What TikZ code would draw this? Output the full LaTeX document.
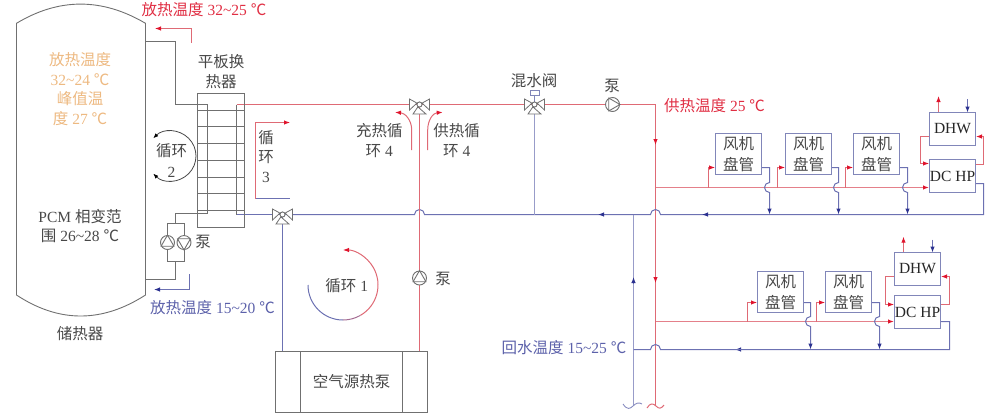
\documentclass[tikz,border=0pt]{standalone}
\usepackage{fontspec}
\setmainfont{Liberation Serif}
\newfontfamily\cjk{Noto Sans CJK SC}
\newcommand{\zh}[1]{{\cjk #1}}
\newcommand{\wave}{\textasciitilde}
\usepackage{tikz}
\usetikzlibrary{arrows.meta,backgrounds}
\definecolor{pipegrey}{HTML}{707070}
\definecolor{pipered}{HTML}{DF6A75}
\definecolor{pipeblue}{HTML}{6C71B2}
\definecolor{tipred}{HTML}{E0142D}
\definecolor{tipblue}{HTML}{2B3190}
\definecolor{boxblue}{HTML}{8186B9}
\definecolor{warmtext}{HTML}{EDB981}
\definecolor{darktext}{HTML}{484848}
\tikzset{
  txt/.style={inner sep=0pt, text=darktext, align=center, font=\fontsize{15.5}{19.5}\selectfont},
  txtred/.style={txt, text=tipred!70!pipered},
  txtblue/.style={txt, text=pipeblue!75!tipblue},
  txtwarm/.style={txt, text=warmtext},
  redline/.style={draw=pipered, line width=1pt},
  blueline/.style={draw=pipeblue, line width=1pt},
  greyline/.style={draw=pipegrey, line width=.9pt},
  redarrow/.style={redline, -{Latex[length=6pt,width=4.5pt,color=tipred]}},
  bluearrow/.style={blueline, -{Latex[length=6pt,width=4.5pt,color=tipblue]}},
  redwide/.style={redarrow, draw=pipered!85!white, line width=1.5pt},
  bluewide/.style={draw=pipeblue!70!white, line width=1.6pt},
  coilbox/.style={draw=boxblue, line width=1pt, fill=white, inner sep=0pt, minimum width=46pt, minimum height=41pt, text=darktext, align=center, font=\fontsize{15.5}{21}\selectfont},
  unitbox/.style={draw=boxblue, line width=1pt, fill=white, inner sep=0pt, minimum width=46pt, minimum height=33pt, text=black!85, font=\fontsize{15.5}{18}\selectfont},
  pumpnode/.style={circle, draw=pipegrey, line width=.9pt, fill=white, inner sep=0pt, minimum size=14pt},
  hubnode/.style={circle, draw=pipegrey, line width=.8pt, fill=white, inner sep=0pt, minimum size=5pt},
  valvepart/.style={draw=pipegrey, line width=.8pt, fill=white}
}
% three way valve: name, position
\newcommand{\threeway}[2]{
  \node [hubnode] (#1) at (#2) {};
  \path [valvepart] (#1) -- ++(-10,-5.5) -- ++(0,11) -- cycle;
  \path [valvepart] (#1) -- ++(10,-5.5) -- ++(0,11) -- cycle;
  \path [valvepart] (#1) -- ++(-6.5,9.5) -- ++(13,0) -- cycle;
  \node [hubnode] at (#2) {};
}
\begin{document}
\begin{tikzpicture}[x=1pt, y=-1pt]
\useasboundingbox (0,0) rectangle (1000,416);
% storage tank
\draw [greyline] (16.5,23.3) .. controls (59,-2.3) and (102,-2.3) .. (145.5,23.3) -- (145.5,295)
  .. controls (102,323) and (59,323) .. (16.5,295) -- cycle;
\node [txtwarm] (tankwarm) at (80,89) {\zh{放热温度}\\32\wave24 \zh{℃}\\\zh{峰值温}\\\zh{度} 27 \zh{℃}};
\node [txt] (tankpcm) at (80,226) {PCM \zh{相变范}\\\zh{围} 26\wave28 \zh{℃}};
\node [txt] (tankname) at (80,334) {\zh{储热器}};
% plate exchanger
\node [draw=pipegrey, line width=.9pt, minimum width=47pt, minimum height=134pt, inner sep=0pt] (hxbox) at (221,160.5) {};
\draw [greyline] (197.5,110.5) -- (244.5,110.5);
\draw [greyline] (197.5,126.5) -- (244.5,126.5);
\draw [greyline] (197.5,143.5) -- (244.5,143.5);
\draw [greyline] (197.5,160.5) -- (244.5,160.5);
\draw [greyline] (197.5,177.5) -- (244.5,177.5);
\draw [greyline] (197.5,193.5) -- (244.5,193.5);
\draw [greyline] (197.5,210.5) -- (244.5,210.5);
\node [txt] (hxname) at (221,71.5) {\zh{平板换}\\\zh{热器}};
% pumps
\node [pumpnode] (pumpa) at (167.5,242.5) {};
\node [pumpnode] (pumpb) at (184,242.5) {};
\node [pumpnode] (pumpc) at (419.5,278) {};
\node [pumpnode] (pumpd) at (612.5,104.5) {};
\draw [greyline] (pumpa.90) -- (pumpa.210) -- (pumpa.330) -- cycle;
\draw [greyline] (pumpb.270) -- (pumpb.30) -- (pumpb.150) -- cycle;
\draw [greyline] (pumpc.90) -- (pumpc.210) -- (pumpc.330) -- cycle;
\draw [greyline] (pumpd.0) -- (pumpd.120) -- (pumpd.240) -- cycle;
\node [txt] (pumpaname) at (203,242) {\zh{泵}};
\node [txt] (pumpcname) at (443,279) {\zh{泵}};
\node [txt] (pumpdname) at (612,86) {\zh{泵}};
% valves
\threeway{valvea}{282.5,214.5}
\threeway{valveb}{419.5,104.5}
\threeway{valvec}{534.5,104.5}
\node [draw=boxblue, line width=.9pt, fill=white, inner sep=0pt, minimum width=9pt, minimum height=4.6pt] (valvehead) at (534.5,93) {};
\node [txt] (valvename) at (534,81) {\zh{混水阀}};
% air source heat pump
\node [draw=pipegrey, line width=.9pt, inner sep=0pt, minimum width=152pt, minimum height=61pt] (ashp) at (351.5,382) {};
\node [draw=pipegrey, line width=.9pt, inner sep=0pt, minimum width=102pt, minimum height=61pt, text=darktext, font=\fontsize{15.5}{18}\selectfont] (ashpname) at (351.5,382) {\zh{空气源热泵}};
% fan coils and units, upper branch
\node [coilbox] (coila) at (738.5,154) {\zh{风机}\\\zh{盘管}};
\node [coilbox] (coilb) at (808.5,154) {\zh{风机}\\\zh{盘管}};
\node [coilbox] (coilc) at (876.5,154) {\zh{风机}\\\zh{盘管}};
\node [unitbox] (dhwa) at (952.5,129) {DHW};
\node [unitbox] (hpa) at (952.5,176) {DC HP};
% fan coils and units, lower branch
\node [coilbox] (coild) at (780.5,292) {\zh{风机}\\\zh{盘管}};
\node [coilbox] (coile) at (848.5,292) {\zh{风机}\\\zh{盘管}};
\node [unitbox] (dhwb) at (917.5,269) {DHW};
\node [unitbox] (hpb) at (917.5,312) {DC HP};
% pipe points
\coordinate (tankout) at (145.5,41.5);
\coordinate (hxgreytop) at (207.5,104.5);
\coordinate (hxgreylow) at (207.5,213.5);
\coordinate (hxredtop) at (236.5,104.5);
\coordinate (hxbluelow) at (236.5,214.5);
\coordinate (tankin) at (145.5,279.5);
\coordinate (pumptop) at (175.5,223.5);
\coordinate (pumplow) at (175.5,261.5);
\coordinate (redcorner) at (655.5,104.5);
\coordinate (redfoot) at (655.5,405);
\coordinate (bluefoot) at (633.5,405);
\coordinate (bluehead) at (633.5,214.5);
\coordinate (bluerise) at (633.5,277);
\coordinate (blueturn) at (983.5,214.5);
\coordinate (mainhopa) at (414.5,214.5);
\coordinate (mainhopb) at (650.5,214.5);
\coordinate (mainmida) at (598,214.5);
\coordinate (mainmidb) at (702,214.5);
\coordinate (lowstart) at (633.5,349.5);
\coordinate (lowhop) at (650.5,349.5);
\coordinate (lowmid) at (735,349.5);
\coordinate (lowturn) at (949.5,349.5);
\coordinate (reddowna) at (655.5,145);
\coordinate (reddownb) at (655.5,283);
\coordinate (brancha) at (655.5,187.5);
\coordinate (branchb) at (655.5,321.5);
\begin{scope}[on background layer]
% source side
\draw [greyline] (tankout) -| (175.5,104.5) -- (hxgreytop) -- (hxgreylow) -| (pumptop);
\draw [greyline] (pumpa.north) |- (pumptop) -| (pumpb.north);
\draw [greyline] (pumpa.south) |- (pumplow) -| (pumpb.south);
\draw [greyline] (pumplow) |- (tankin);
\draw [greyline] (hxredtop) -- (hxbluelow);
\draw [redline] (hxredtop) -- (valveb) -- (valvec) -- (pumpd) -- (redcorner) -- (redfoot);
\draw [blueline] (hxbluelow) -- (valvea);
\draw [blueline] (valvea) -- (mainhopa) arc [start angle=180, end angle=360, radius=5]
  -- (mainhopb) arc [start angle=180, end angle=360, radius=5] -- (blueturn) |- (hpa.east |- 0,183.5);
\draw [blueline] (valvea) -- (valvea |- ashp.north);
\draw [redline] (valveb) -- (pumpc) -- (pumpc |- ashp.north);
\draw [bluewide] (valvec) -- (valvec |- mainhopa);
\draw [draw=boxblue, line width=.9pt] (valvehead) -- (valvec);
\draw [bluewide] (bluehead) -- (bluefoot);
% mid line arrows
\path [redarrow] ([yshift=6pt]reddowna) -- (reddowna);
\path [redarrow] ([yshift=6pt]reddownb) -- (reddownb);
\path [bluearrow] ([yshift=-6pt]bluerise) -- (bluerise);
\path [bluearrow] ([xshift=6pt]mainmidb) -- (mainmidb);
\path [bluearrow] ([xshift=6pt]mainmida) -- (mainmida);
\path [bluearrow] ([xshift=6pt]lowmid) -- (lowmid);
% upper branch
\path [redwide] (brancha) -- (hpa.west |- brancha);
\path [redarrow] (708.5,187.5) |- (coila.west |- 0,167.5);
\path [redarrow] (777.5,187.5) |- (coilb.west |- 0,167.5);
\path [redarrow] (845.5,187.5) |- (coilc.west |- 0,167.5);
\path [bluearrow] (coila.east |- 0,167.5) -| (769.5,182.5) arc [start angle=270, end angle=90, radius=5] -- (769.5,214.5);
\path [bluearrow] (coilb.east |- 0,167.5) -| (838.5,182.5) arc [start angle=270, end angle=90, radius=5] -- (838.5,214.5);
\path [bluearrow] (coilc.east |- 0,167.5) -| (907.5,182.5) arc [start angle=270, end angle=90, radius=5] -- (907.5,214.5);
\path [redarrow] (dhwa.west |- 0,136.5) -| (920.5,163.5) -- (hpa.west |- 0,163.5);
\path [redarrow] (hpa.east |- 0,164.5) -| (983.5,136.5) -- (dhwa.east |- 0,136.5);
\path [redarrow] (dhwa.north -| 938.5,0) -- (938.5,96);
\path [bluearrow] (967.5,99) -- (967.5,112.5);
% lower branch
\draw [blueline] (lowstart) -- (lowhop) arc [start angle=180, end angle=360, radius=5] -- (lowturn) |- (hpb.east |- 0,321.5);
\path [redwide] (branchb) -- (hpb.west |- branchb);
\path [redarrow] (747.5,321.5) |- (coild.west |- 0,302.5);
\path [redarrow] (816.5,321.5) |- (coile.west |- 0,302.5);
\path [bluearrow] (coild.east |- 0,302.5) -| (810.5,316.5) arc [start angle=270, end angle=90, radius=5] -- (810.5,349.5);
\path [bluearrow] (coile.east |- 0,302.5) -| (879.5,316.5) arc [start angle=270, end angle=90, radius=5] -- (879.5,349.5);
\path [redarrow] (dhwb.west |- 0,276.5) -| (885.5,304.5) -- (hpb.west |- 0,304.5);
\path [redarrow] (hpb.east |- 0,304.5) -| (949.5,276.5) -- (dhwb.east |- 0,276.5);
\path [redarrow] (dhwb.north -| 903.5,0) -- (903.5,236.7);
\path [bluearrow] (932.5,239.7) -- (932.5,252.5);
\end{scope}
% pipe breaks
\draw [draw=pipeblue!80!white, line width=.9pt] (623,404) .. controls (627,410) and (630,409) .. (633,406) .. controls (636,403) and (639,402) .. (642,404);
\draw [redline] (647,408) .. controls (650,403) and (653,403) .. (656,406) .. controls (659,409) and (661,409) .. (664,405);
% loop marks
\path [redarrow] (191.5,42.7) |- (155,28.5);
\path [bluearrow] (189.5,274.3) |- (154,289.5);
\path [redarrow] (255.5,198.5) |- (290,122.5);
\draw [blueline] (255.5,198.5) -- (290,198.5);
\draw [line width=.8pt, draw=darktext, {Latex[length=5pt,width=4pt,color=black]}-{Latex[length=5pt,width=4pt,color=black]}] (153.3,138.3) arc [start angle=-135, end angle=135, radius=25];
\draw [blueline] (308,285) arc [start angle=180, end angle=90, radius=35];
\draw [draw=pipeblue!50!pipered, line width=1pt] (343,320) arc [start angle=90, end angle=60, radius=35];
\draw [redarrow] (360.5,315.3) arc [start angle=60, end angle=-90, radius=35];
\draw [redarrow] (411.7,150) -- (411.7,130) .. controls (411.7,120) and (405,113) .. (395,112.3);
\draw [redarrow] (427.7,150) -- (427.7,130) .. controls (427.7,120) and (433,113) .. (442.7,112.3);
% labels
\node [txtred] (heatout) at (204,10) {\zh{放热温度} 32\wave25 \zh{℃}};
\node [txtblue] (heatin) at (212.5,308) {\zh{放热温度} 15\wave20 \zh{℃}};
\node [txtred] (supply) at (714.5,106) {\zh{供热温度} 25 \zh{℃}};
\node [txtblue] (backflow) at (564,348) {\zh{回水温度} 15\wave25 \zh{℃}};
\node [txt] (loopb) at (171.5,160.5) {\zh{循环}\\[2pt]2};
\node [txt] (loopc) at (266,156.5) {\zh{循}\\\zh{环}\\3};
\node [txt] (loopa) at (346.7,286) {\zh{循环} 1};
\node [txt] (loopcharge) at (379.3,140.5) {\zh{充热循}\\\zh{环} 4};
\node [txt] (loopsupply) at (456.7,140.5) {\zh{供热循}\\\zh{环} 4};
\end{tikzpicture}
\end{document}
